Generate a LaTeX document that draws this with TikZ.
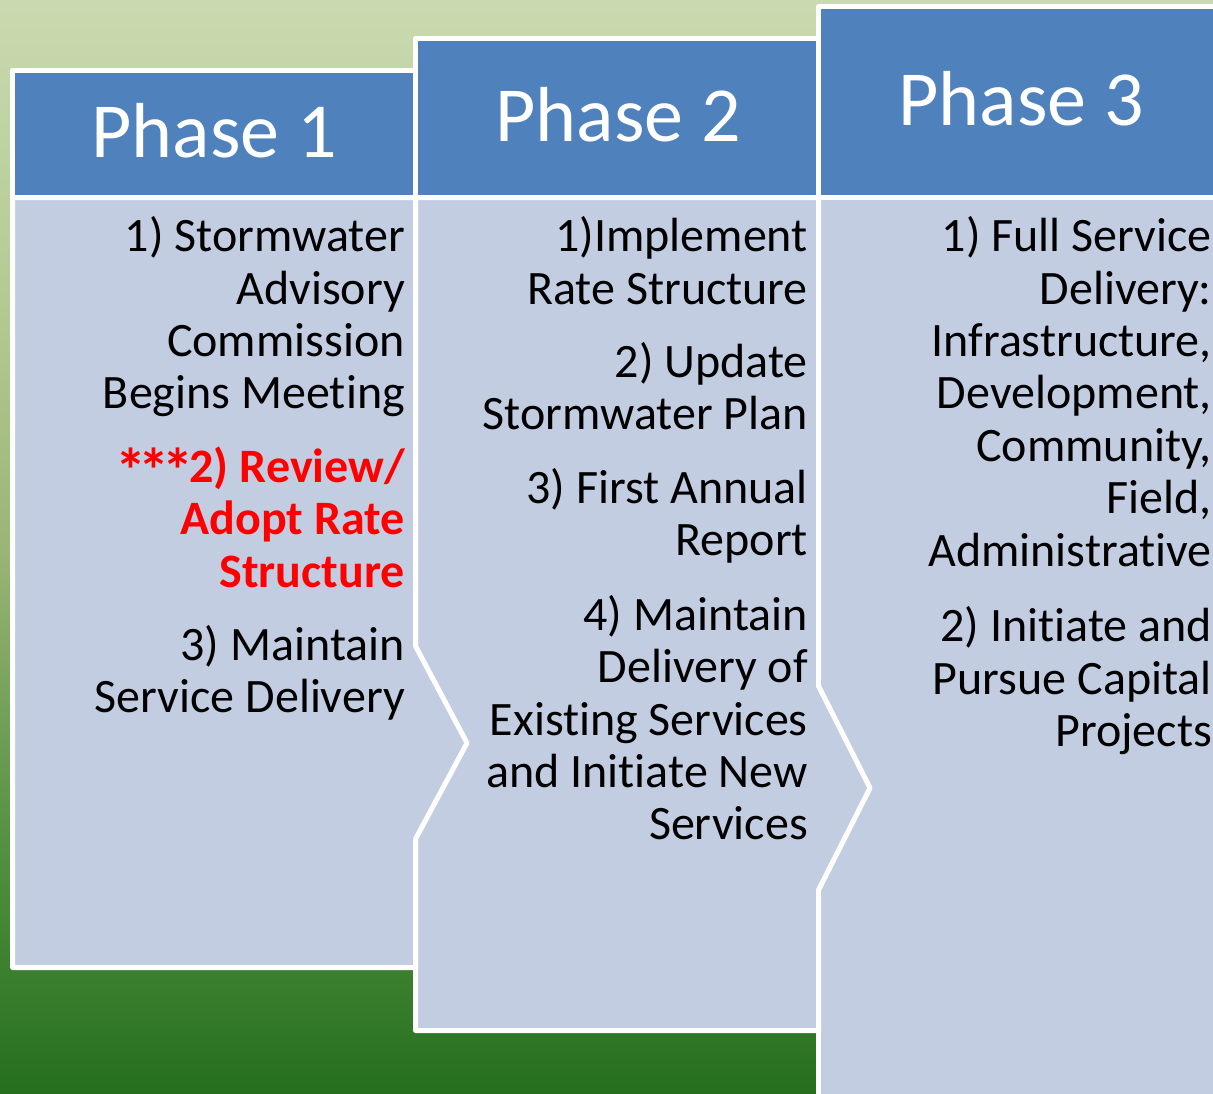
\documentclass[tikz,border=0pt]{standalone}
\usepackage{graphicx}
\usepackage{fontspec}
\setmainfont{Carlito}[Ligatures=NoCommon]
\definecolor{headblue}{HTML}{4F81BD}
\definecolor{bodyblue}{HTML}{C3CDE2}
\definecolor{keyred}{HTML}{FF0000}
\definecolor{bgtop}{HTML}{C9DAB0}
\definecolor{bgupper}{HTML}{B4CA92}
\definecolor{bgmid}{HTML}{9AB576}
\definecolor{bglower}{HTML}{6A9C52}
\definecolor{bglow}{HTML}{488A38}
\definecolor{bgbot}{HTML}{256F1F}
% a shaded path is mapped onto the 25bp--75bp band of the shading
\pgfdeclareverticalshading{bgfade}{100bp}{%
  color(0bp)=(bgbot); color(25bp)=(bgbot); color(33.85bp)=(bglow);
  color(40.7bp)=(bglower); color(49.85bp)=(bgmid); color(61.3bp)=(bgupper);
  color(75bp)=(bgtop); color(100bp)=(bgtop)}
% a larger, lowered asterisk for the highlighted item (no extra height or depth)
\newcommand\keystar{\makebox[23.5pt]{\raisebox{-10pt}[0pt][0pt]{\scalebox{1.3}{*}}}}
\begin{document}
\begin{tikzpicture}[x=1pt,y=-1pt,
  panel/.style={draw=white,line width=5pt,line join=round},
  headbox/.style={panel,fill=headblue},
  bodybox/.style={panel,fill=bodyblue},
  headtext/.style={text=white,font=\fontsize{78}{90}\selectfont,inner sep=0pt,anchor=base},
  item/.style={font=\fontsize{48}{52}\selectfont,inner sep=0pt,anchor=base east},
  keyitem/.style={item,text=keyred,font=\fontsize{48}{52}\selectfont\bfseries}]
\useasboundingbox (0,0) rectangle (1213,1093);
\begin{scope}
  \clip (0,0) rectangle (1213,1093);
  % backdrop
  \shade[shading=bgfade] (0,0) rectangle (1213,1093);
  % phase 3 panel (runs off the right and bottom edges)
  \draw[bodybox] (818.5,197.5) -- (1221.5,197.5) -- (1221.5,1110) -- (818.5,1110) -- cycle;
  \draw[headbox] (818.5,6.5) rectangle (1221.5,197.5);
  % phase 2 panel with chevron point
  \draw[bodybox] (415.5,197.5) -- (818.5,197.5) -- (818.5,686) -- (870,788)
    -- (818.5,890) -- (818.5,1030.5) -- (415.5,1030.5) -- cycle;
  \draw[headbox] (415.5,38.5) rectangle (818.5,197.5);
  % phase 1 panel with chevron point
  \draw[bodybox] (12.5,197.5) -- (415.5,197.5) -- (415.5,646) -- (467,743)
    -- (415.5,839) -- (415.5,967.5) -- (12.5,967.5) -- cycle;
  \draw[headbox] (12.5,70.5) rectangle (415.5,197.5);
\end{scope}

% headers
\node[headtext] (hd1) at (214,157) {Phase 1};
\node[headtext] (hd2) at (618,141) {Phase 2};
\node[headtext] (hd3) at (1021,125) {Phase 3};

% phase 1 items
\node[item] (a1) at (405,251) {1) Stormwater};
\node[item] (a2) at (405,304) {Advisory};
\node[item] (a3) at (405,356) {Commission};
\node[item] (a4) at (405,408) {Begins Meeting};
\node[keyitem] (a5) at (405,482) {\keystar\keystar\keystar 2) Review/};
\node[keyitem] (a6) at (405,534) {Adopt Rate};
\node[keyitem] (a7) at (405,587) {Structure};
\node[item] (a8) at (405,660) {3) Maintain};
\node[item] (a9) at (405,712) {Service Delivery};

% phase 2 items
\node[item] (b1) at (808,251) {1)Implement};
\node[item] (b2) at (808,304) {Rate Structure};
\node[item] (b3) at (808,377) {2) Update};
\node[item] (b4) at (808,429) {Stormwater Plan};
\node[item] (b5) at (808,503) {3) First Annual};
\node[item] (b6) at (808,555) {Report};
\node[item] (b7) at (808,630) {4) Maintain};
\node[item] (b8) at (808,682) {Delivery of};
\node[item] (b9) at (808,735) {Existing Services};
\node[item] (b10) at (808,787) {and Initiate New};
\node[item] (b11) at (808,839) {Services};

% phase 3 items
\node[item] (c1) at (1212,251) {1) Full Service};
\node[item] (c2) at (1212,304) {Delivery:};
\node[item] (c3) at (1212,356) {Infrastructure,};
\node[item] (c4) at (1212,408) {Development,};
\node[item] (c5) at (1212,461) {Community,};
\node[item] (c6) at (1212,513) {Field,};
\node[item] (c7) at (1212,566) {Administrative};
\node[item] (c8) at (1212,641) {2) Initiate and};
\node[item] (c9) at (1212,694) {Pursue Capital};
\node[item] (c10) at (1212,746) {Projects};
\end{tikzpicture}
\end{document}
